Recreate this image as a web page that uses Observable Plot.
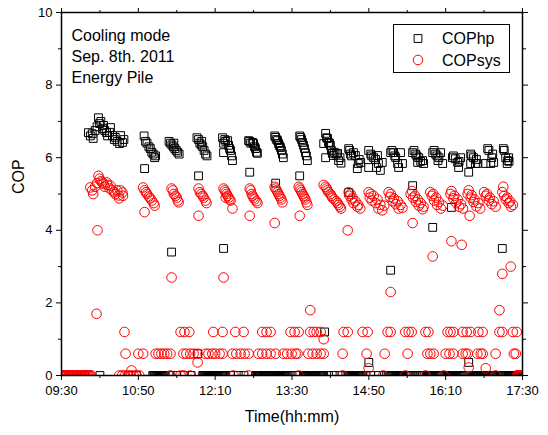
<!DOCTYPE html>
<html>
<head>
<meta charset="utf-8">
<script src="https://cdn.jsdelivr.net/npm/d3@7"></script>
<script src="https://cdn.jsdelivr.net/npm/@observablehq/plot@0.6"></script>
<style>
  html, body { margin: 0; padding: 0; background: #fff; }
  #wrap { position: relative; width: 548px; height: 435px; font-family: Arial, "Liberation Sans", sans-serif; }
  #legend { position: absolute; left: 393px; top: 24px; width: 117px; height: 49px; box-sizing: border-box; border: 1px solid #000; background: #fff; }
</style>
</head>
<body>
<div id="wrap"></div>
<script>
// ---------- DATA (time = minutes after 09:30) ----------
const xMajor = [0, 80, 160, 240, 320, 400, 480];
const xTickLabels = ["09:30", "10:50", "12:10", "13:30", "14:50", "16:10", "17:30"];
const xMinor = [40, 120, 200, 280, 360, 440];
const yMajor = [0, 2, 4, 6, 8, 10];
const yMinor = [1, 3, 5, 7, 9];
const seriesNames = ["COPhp", "COPsys"];
const annotationLines = ["Cooling mode", "Sep. 8th. 2011", "Energy Pile"];

// COPhp while the heat pump runs
const hpT = [
  28,30,32,33,35,37,38.5,39.6,41,42.7,43.8,45,46.9,48,50,51,53,55,56,58,60.4,61.5,63.5,65,
  86,86.5,87.5,89,91,92.5,94,95.5,97,98,
  112,113.5,114.6,115,116.5,117,118,119.5,121,122.5,
  141,141.7,142.7,142.7,144,145.5,146,147,148.5,150,151.5,
  167.7,168.75,168.75,168.75,170,171,173,174,175,176,177,178,
  194.8,196,196,197,199,200,201,202,203,204,
  222,223,223,224,225,226,227,228,229,230,231,
  248,248,249,250,251,252,253,254,255,256,
  273,274,275,275,276,277,278,279,280,281,282,283,284,286,287.5,288.5,290,291,
  299,299,300,301,302,304,306,308,309,310,311.5,
  319.8,319.8,320,322,323,325,327,328,329,330,332,334,
  342.7,342.7,344,345.8,347,348,350,351,353,355,
  365.6,365.6,367,368.75,370,370.8,372,374,376,377,
  386.5,386.5,388,389.6,391,392,393,394.8,396.9,
  406,407,408,410,412.5,413.5,414,415.6,
  424,424,426,426,427,429,431,432,433,
  441.7,443.75,445,447,448,449,450,
  459,460,461,462.5,464,464.6,465.6,466
];
const hpV = [
  6.69,6.6,6.66,6.53,6.75,6.85,7.1,6.94,7.0,6.8,6.89,6.75,6.69,6.6,6.7,6.83,6.61,6.5,6.56,6.45,6.39,6.61,6.42,6.5,
  6.6,5.7,6.45,6.4,6.3,6.25,6.15,6.1,6.0,6.05,
  6.45,6.4,3.4,6.35,6.3,6.4,6.25,6.2,6.15,6.1,
  6.55,0.6,6.5,5.5,6.4,6.35,6.45,6.3,6.2,6.1,6.05,
  6.55,6.4,6.14,3.5,6.5,6.45,6.47,6.34,6.25,6.2,6.05,5.92,
  6.47,6.45,5.6,6.4,6.42,6.39,6.3,6.25,6.15,6.12,
  6.6,6.56,5.3,6.5,6.47,6.39,6.33,6.28,6.2,6.1,6.0,
  6.6,5.5,6.56,6.5,6.42,6.34,6.25,6.14,6.05,5.92,
  6.39,1.2,6.67,6.0,6.55,6.53,6.42,6.4,6.34,6.2,6.12,6.06,6.15,6.1,6.12,5.92,6.0,5.85,
  6.25,5.04,6.2,6.1,6.05,6.14,6.06,5.7,5.84,5.95,5.87,
  6.2,5.73,0.36,6.1,6.05,6.0,5.95,5.73,6.06,5.84,5.65,5.87,
  6.14,2.9,6.2,6.14,6.05,6.0,5.84,5.73,6.14,5.84,
  6.14,5.23,6.2,6.1,6.05,5.87,6.0,5.9,5.92,5.84,
  6.14,4.08,6.2,6.1,6.05,5.92,6.0,6.14,5.84,
  4.63,6.0,6.05,5.97,5.87,5.73,5.9,6.0,
  5.6,0.36,6.1,5.84,6.05,6.0,5.84,5.95,5.84,
  5.84,6.25,6.2,5.84,6.0,6.1,5.87,
  3.5,6.25,6.2,6.0,5.84,5.92,6.0,5.9
];
// times at which COPhp = 0 (heat pump off)
const hpZeroLevel = 0;
const hpZeroT = [
  0,4,8,12,16,20,24,40,70,78,
  95,96,97,98,99,100,101,102,103,104,105,106,107,108,
  113,120,128,135,
  147,148,149,150,151,152,153,154,155,156,157,158,159,160,161,162,163,164,165,166,167,168,169,170,171,
  176,184,190,
  202,203,204,205,206,207,208,209,210,211,212,213,214,215,216,217,218,219,220,221,222,223,224,225,226,227,228,229,230,231,232,233,234,235,236,
  240,246,
  252,253,254,255,256,257,258,259,260,261,262,263,264,265,266,267,268,269,270,271,272,273,
  278,284,290,296,
  299,300,301,302,303,304,305,306,307,308,309,310,311,312,313,
  317,322,330,336,
  340,341,342,343,344,345,346,347,348,349,350,351,352,353,354,355,
  360,362,364,366,368,370,372,374,376,
  381,382,383,384,385,386,387,388,389,390,391,392,393,394,395,
  402,403,404,405,406,407,408,409,410,411,412,413,414,415,416,417,418,419,
  428,429,430,431,432,433,434,435,436,437,438,439,440,441,442,443,444,445,446,447,448,449,450,
  457,458,459,460,461,462,463,464,465,466,467,468,469,470,471,472,473,474,475
];

// COPsys (scattered readings)
const sysT = [
  30,32,33,35,36.5,37,37.5,38.5,39.6,41,42.7,43.75,45,47,48,50,51,53,55,56,58,59.4,60,61.5,63.5,64,
  72.9,
  85,86.5,86.5,88,89,91,92.5,94,96,97,
  114.6,114.6,116,117,118.75,120,121,122,
  141.7,142.7,142.7,144,145.5,147,148,150,151,
  168.75,168.75,170,171,171,172,173,174,175,176,178,
  196,196,197,198,199,200,201,203,204,
  222,222,223,224,225,226,227,228,229,230,
  247,248,248,249,250,251,252,253,254,255,256,259,
  273,273,275,276,277,278,280,281,282,284,286,287.5,288.5,290,291,
  298,299,300,301,302,303,304,306,308,309,311,
  319.8,319.8,321,322,323,325,327,329,330,332,334,336,
  340.6,342,342.7,343,345,346,348,350,351,353,355,
  363.5,365,365.6,366,368,369,371,372,374,376,377,
  384,385.5,386.5,387,388,390,391,393,395,397,
  405,406,406,408,409,411,412.5,414,416,416.7,418,
  423,424,424,425,426,427,429,430,432,434,436,
  440,441.7,441.7,443,445,446,448,450,452,
  456,459,459,460,461,462.5,464,465.6,467,467.7,468,470
];
const sysV = [
  5.18,5.1,5.0,5.2,1.7,5.3,4.0,5.5,5.42,5.35,5.32,5.28,5.2,5.32,5.25,5.15,5.23,5.1,5.05,5.0,5.1,4.96,4.88,5.1,5.04,4.95,
  0.14,
  5.18,5.1,4.5,5.05,5.0,4.93,4.88,4.82,4.75,4.68,
  5.15,2.7,5.1,5.0,4.95,4.9,4.82,4.77,
  0.36,5.15,4.4,5.05,5.0,4.95,4.9,4.82,4.75,
  5.15,2.7,5.1,5.05,4.9,5.0,4.95,4.9,4.85,4.82,4.6,
  5.15,4.4,5.1,5.0,4.95,4.9,4.85,4.8,4.75,
  5.2,4.2,5.15,5.1,5.05,5.0,4.95,4.9,4.85,4.77,
  5.2,5.15,4.4,5.1,5.05,5.0,4.95,4.9,4.85,4.77,4.7,1.8,
  5.25,1.0,5.2,5.15,5.1,5.05,5.0,4.95,4.9,4.85,4.8,4.75,4.7,4.65,4.6,
  4.0,5.05,4.95,5.0,4.85,4.9,4.75,4.8,4.65,4.7,4.6,
  0.2,5.05,4.9,5.0,4.82,4.95,4.75,4.85,4.6,4.7,4.55,4.68,
  5.05,4.92,2.3,5.0,4.8,4.88,4.72,4.8,4.6,4.7,4.62,
  5.0,5.08,4.2,4.9,4.95,4.78,4.85,4.68,4.75,4.58,4.65,
  5.05,4.95,3.28,5.0,4.82,4.9,4.7,4.78,4.6,4.68,
  5.0,5.08,3.7,4.88,4.95,4.75,4.85,4.65,4.72,3.6,4.6,
  5.0,5.1,0.22,4.4,4.9,4.97,4.78,4.85,4.66,4.75,4.6,
  5.05,4.95,0.2,5.0,4.82,4.9,4.72,4.8,4.65,
  1.8,5.05,2.8,5.2,4.95,4.85,4.9,4.75,4.8,3.0,4.65,4.7
];
// COPsys readings sitting on the 1.2 level
const sysMidLevel = 1.2;
const sysMidT = [65.6,124,128,133,158,167.7,181,189.6,209,213.5,217.7,238.5,242.7,246.9,259,262.5,265.6,269.8,
  293.75,298,313.5,318.75,339.6,342.7,358,361.5,364.6,379,382,402,405,408,417.7,421.9,426,434,438.5,456,459,470,474];
// COPsys readings sitting on the 0.6 level
const sysLowLevel = 0.6;
const sysLowT = [66.7,80,85,98,101,104,107,110,113.5,127,130,134,137.5,141.7,150,153,157,160,164.6,167.7,
  178,182,186.5,190.6,194.8,205,209,213.5,217.7,223,231,235,239.6,243.75,245.8,257,261.5,265.6,269.8,273,
  292.7,317.7,336.5,360.4,381,384,387.5,400,404,408,417.7,420.8,423,433,436.5,438.5,452,471,473];
// COPsys readings at 0
const sysZeroLevel = 0;
const sysZeroT = [0,1,2,3,4,5,6,7,8,9,10,11,12,13,14,15,16,17,18,19,20,21,22,23,24,25,26,27,28,29,30,31,
  60,63,66,69,72,75,78,81,113.5,124,127,134,179,194.8,246.9,292.7,335,358,379,398,452,
  474,475,476,477,478,479,480];

// ---------- build rows ----------
const hp = hpT.map((t, i) => ({t, v: hpV[i]}))
  .concat(hpZeroT.map(t => ({t, v: hpZeroLevel})));
const sys = sysT.map((t, i) => ({t, v: sysV[i]}))
  .concat(sysMidT.map(t => ({t, v: sysMidLevel})))
  .concat(sysLowT.map(t => ({t, v: sysLowLevel})))
  .concat(sysZeroT.map(t => ({t, v: sysZeroLevel})));

const FONT = 'Arial, "Liberation Sans", sans-serif';
const blank = () => "";
const SQ_R = 4.4, CI_R = 4.8;

const chart = Plot.plot({
  width: 548,
  height: 435,
  marginLeft: 61,
  marginRight: 26,
  marginTop: 12,
  marginBottom: 60,
  x: {domain: [0, 480]},
  y: {domain: [0, 10]},
  style: {fontFamily: FONT, fontSize: "13px", color: "#000", background: "#fff"},
  marks: [
    Plot.dot(hp, {x: "t", y: "v", symbol: "square", r: SQ_R, stroke: "#000", strokeWidth: 1, fill: "none", clip: true}),
    Plot.dot(sys, {x: "t", y: "v", symbol: "circle", r: CI_R, stroke: "#ff0000", strokeWidth: 1, fill: "none", clip: true}),
    Plot.frame({stroke: "#000", strokeWidth: 1.5}),
    // bottom axis
    Plot.axisX({anchor: "bottom", ticks: xMajor, tickSize: 5, tickPadding: 5, fontSize: 13,
      tickFormat: d => xTickLabels[xMajor.indexOf(d)], label: null}),
    Plot.axisX({anchor: "bottom", ticks: xMinor, tickSize: 3, tickFormat: blank, label: null}),
    // top mirror
    Plot.axisX({anchor: "top", ticks: xMajor, tickSize: 5, tickFormat: blank, label: null}),
    Plot.axisX({anchor: "top", ticks: xMinor, tickSize: 3, tickFormat: blank, label: null}),
    // left axis
    Plot.axisY({anchor: "left", ticks: yMajor, tickSize: 5, tickPadding: 4, fontSize: 13, label: null}),
    Plot.axisY({anchor: "left", ticks: yMinor, tickSize: 3, tickFormat: blank, label: null}),
    // right mirror
    Plot.axisY({anchor: "right", ticks: yMajor, tickSize: 5, tickFormat: blank, label: null}),
    Plot.axisY({anchor: "right", ticks: yMinor, tickSize: 3, tickFormat: blank, label: null}),
    // titles
    Plot.text(["Time(hh:mm)"], {frameAnchor: "bottom", dy: 46, fontSize: 16}),
    Plot.text(["COP"], {frameAnchor: "left", dx: -43, rotate: -90, fontSize: 16}),
    Plot.text([annotationLines.join("\n")], {frameAnchor: "top-left", dx: 10, dy: 14, textAnchor: "start",
      lineAnchor: "top", lineHeight: 1.3, fontSize: 16})
  ]
});

const wrap = document.getElementById("wrap");
wrap.appendChild(chart);

// legend box
const leg = d3.select(wrap).append("div").attr("id", "legend");
const lsvg = leg.append("svg").attr("width", 115).attr("height", 47).style("display", "block");
const legendSymbols = [d3.symbolSquare, d3.symbolCircle];
const legendColors = ["#000", "#ff0000"];
const legendSizes = [Math.PI * SQ_R * SQ_R, Math.PI * CI_R * CI_R];
const rowY = [13.5, 35];
seriesNames.forEach((name, i) => {
  lsvg.append("path")
    .attr("d", d3.symbol(legendSymbols[i], legendSizes[i])())
    .attr("transform", `translate(24,${rowY[i]})`)
    .attr("fill", "none").attr("stroke", legendColors[i]).attr("stroke-width", 1);
  lsvg.append("text")
    .attr("x", 48).attr("y", rowY[i]).attr("dy", "0.35em")
    .attr("font-family", FONT).attr("font-size", 16).attr("fill", "#000")
    .text(name);
});
</script>
</body>
</html>
